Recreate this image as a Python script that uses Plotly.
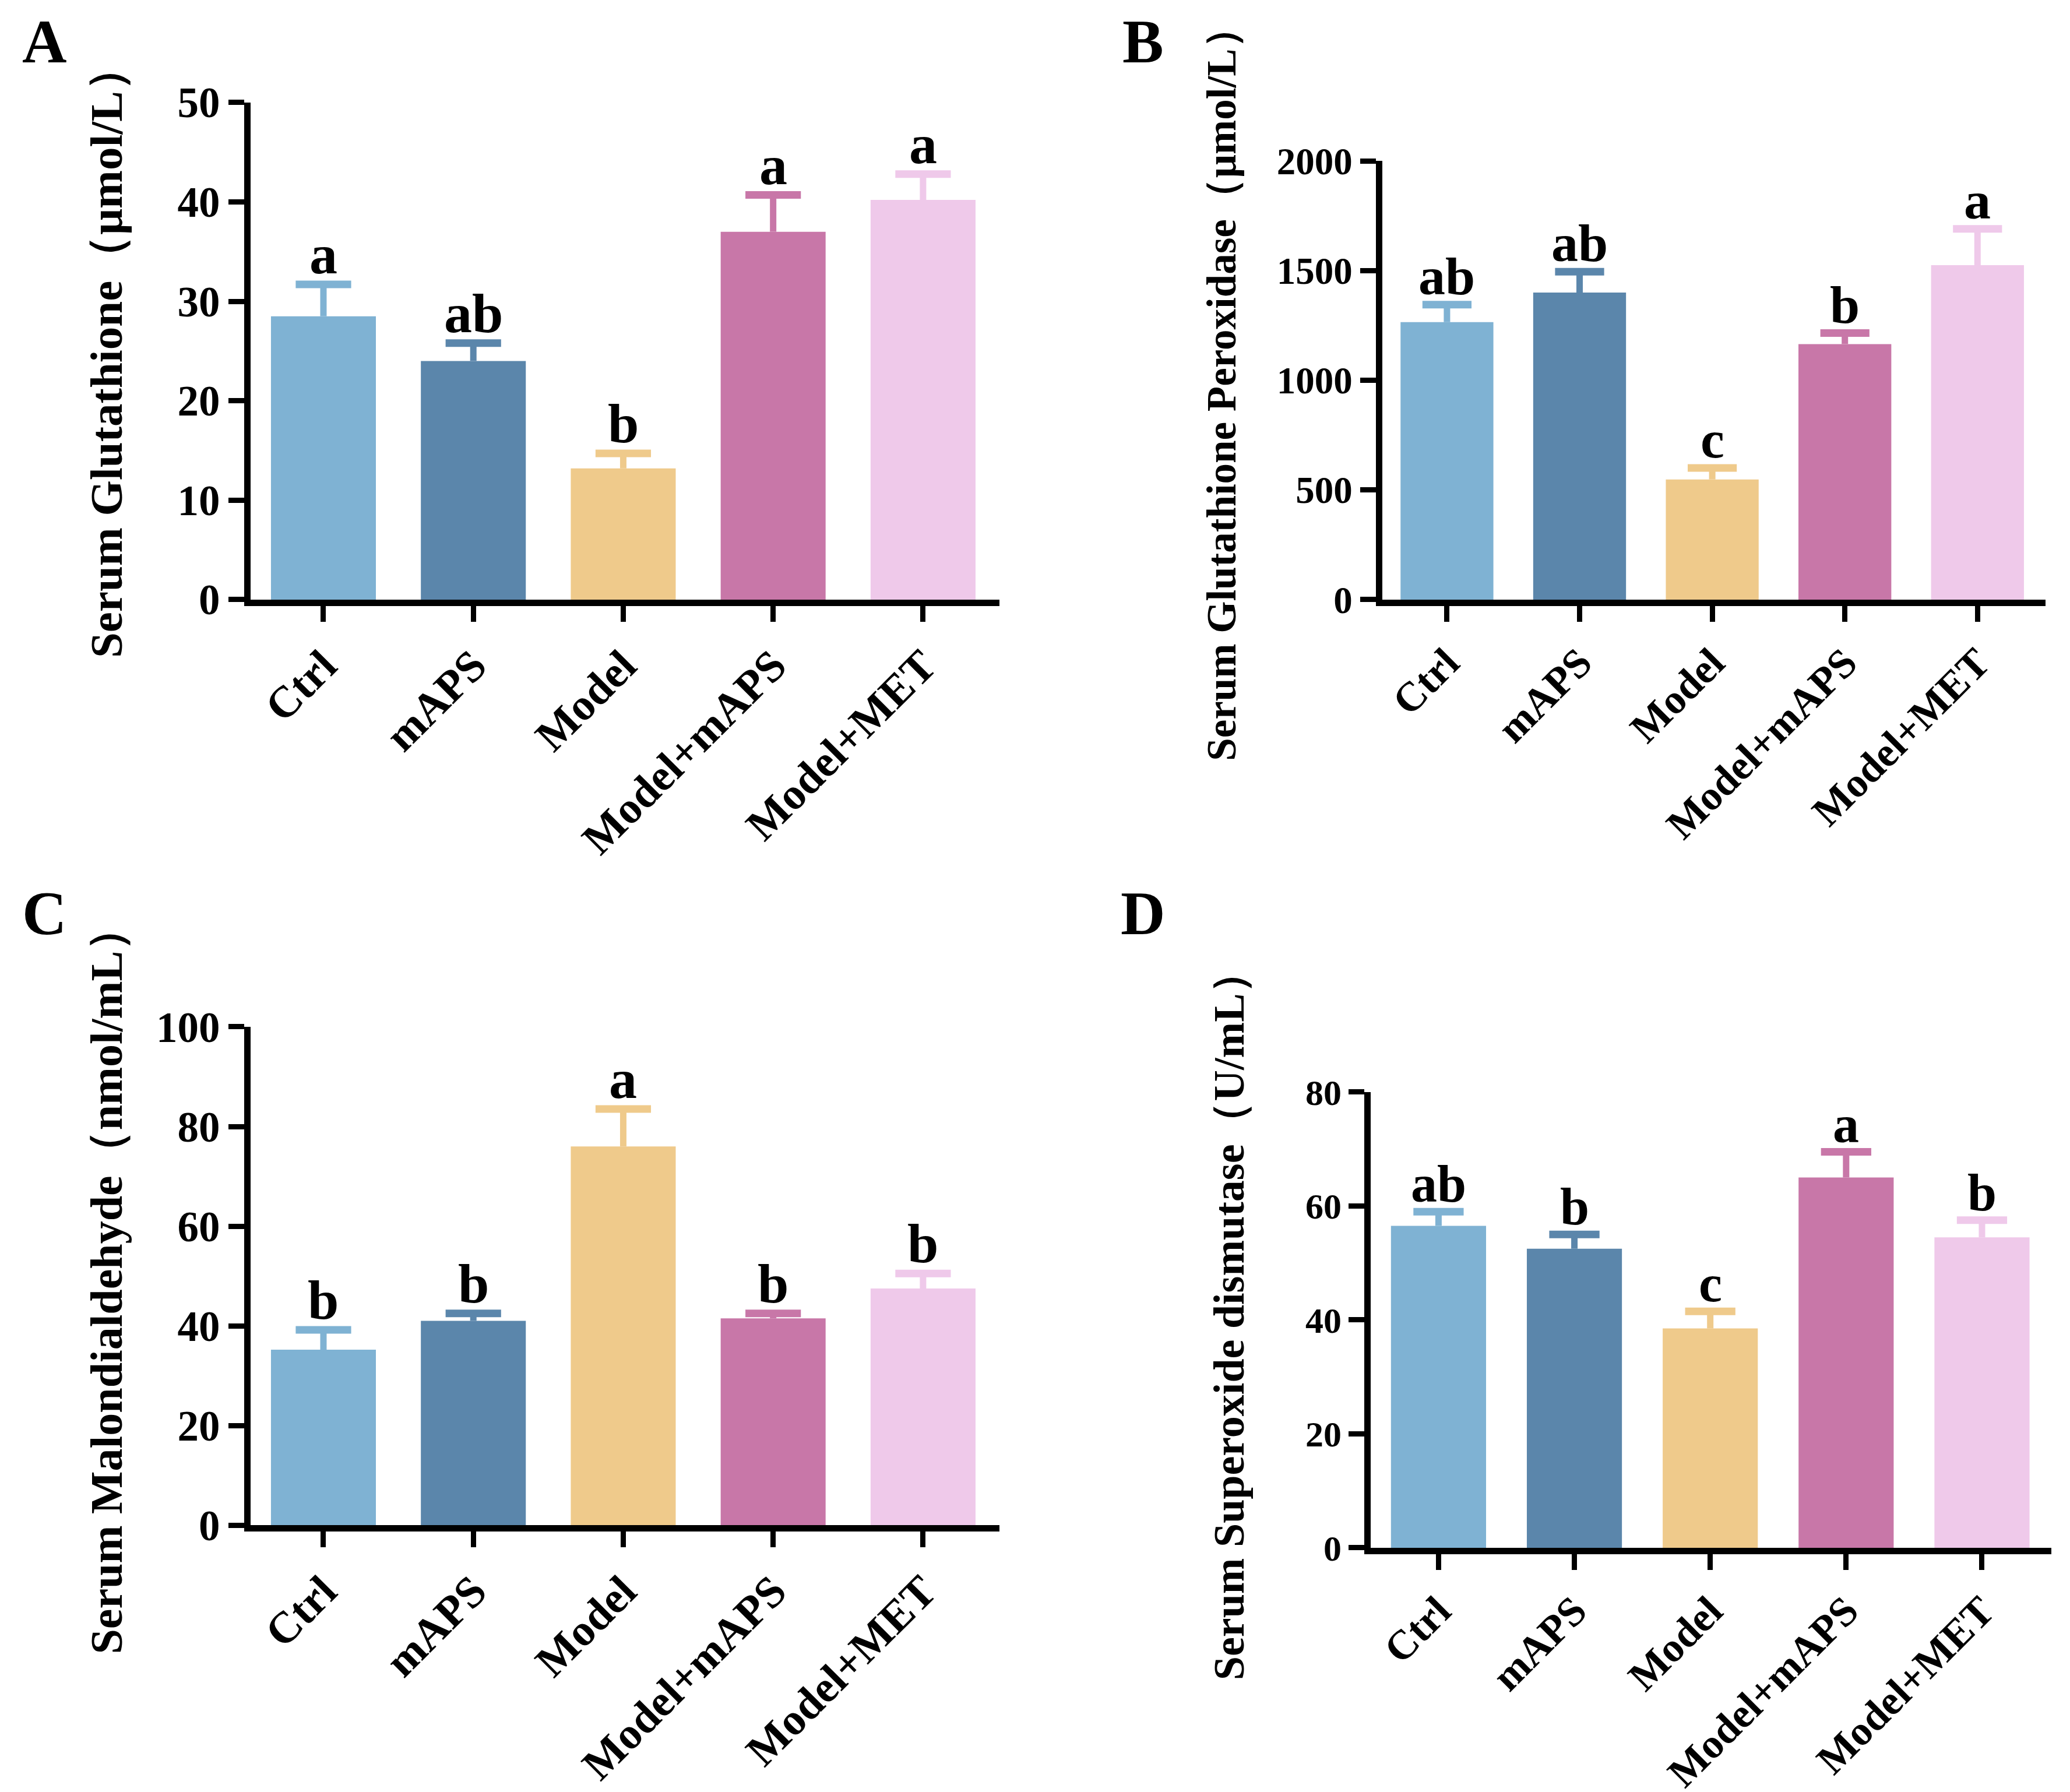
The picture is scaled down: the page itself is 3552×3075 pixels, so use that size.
import plotly.graph_objects as go

groups = ["Ctrl", "mAPS", "Model", "Model+mAPS", "Model+MET"]
colors = ["#7fb2d3", "#5b86ab", "#efca8b", "#c877a8", "#efc9ea"]

# panel A: serum glutathione
gsh_mean = [28.5, 24.0, 13.2, 37.0, 40.2]
gsh_err = [3.2, 1.8, 1.5, 3.7, 2.6]
gsh_sig = ["a", "ab", "b", "a", "a"]

# panel B: glutathione peroxidase
gpx_mean = [1265, 1400, 548, 1165, 1525]
gpx_err = [80, 95, 52, 50, 165]
gpx_sig = ["ab", "ab", "c", "b", "a"]

# panel C: malondialdehyde
mda_mean = [35.2, 41.0, 76.0, 41.5, 47.5]
mda_err = [4.0, 1.5, 7.5, 1.0, 3.0]
mda_sig = ["b", "b", "a", "b", "b"]

# panel D: superoxide dismutase
sod_mean = [56.5, 52.5, 38.5, 65.0, 54.5]
sod_err = [2.5, 2.5, 3.0, 4.5, 3.0]
sod_sig = ["ab", "b", "c", "a", "b"]

FONT = "Liberation Serif"
CAP = 0.185  # half width of error caps, in category units

panels = [
    dict(name="A", mean=gsh_mean, err=gsh_err, sig=gsh_sig, yrange=[0, 50], dtick=10,
         xdom=[0.1188, 0.4806], ydom=[0.668, 0.9454], xrange=[-0.486, 4.51],
         title="Serum Glutathione（μmol/L）", tsize=79, tx=0.049, ty=0.9782,
         lx=0.0193, ly=0.9795, ticksize=73, catsize=76, sigsize=96),
    dict(name="B", mean=gpx_mean, err=gpx_err, sig=gpx_sig, yrange=[0, 2000], dtick=500,
         xdom=[0.6655, 0.986], ydom=[0.668, 0.9128], xrange=[-0.488, 4.514],
         title="Serum Glutathione Peroxidase（μmol/L）", tsize=71, tx=0.5876, ty=0.999,
         lx=0.550, ly=0.9795, ticksize=65, catsize=71, sigsize=92),
    dict(name="C", mean=mda_mean, err=mda_err, sig=mda_sig, yrange=[0, 100], dtick=20,
         xdom=[0.1188, 0.4806], ydom=[0.1515, 0.4296], xrange=[-0.486, 4.51],
         title="Serum Malondialdehyde（nmol/mL）", tsize=78, tx=0.049, ty=0.4979,
         lx=0.0193, ly=0.4927, ticksize=73, catsize=76, sigsize=96),
    dict(name="D", mean=sod_mean, err=sod_err, sig=sod_sig, yrange=[0, 80], dtick=20,
         xdom=[0.660, 0.9887], ydom=[0.1389, 0.3932], xrange=[-0.498, 4.51],
         title="Serum Superoxide dismutase（U/mL）", tsize=74, tx=0.5917, ty=0.4732,
         lx=0.550, ly=0.4927, ticksize=62, catsize=71, sigsize=90),
]

fig = go.Figure()
annotations = []
layout_axes = {}

for i, p in enumerate(panels):
    n = "" if i == 0 else str(i + 1)
    xa, ya = "x" + n, "y" + n
    fig.add_trace(go.Bar(
        x=list(range(len(groups))), y=p["mean"], xaxis=xa, yaxis=ya,
        width=0.70, marker=dict(color=colors, line=dict(width=0)),
        showlegend=False,
    ))
    # upper error bars in the bar colour: stem and cap
    for j in range(len(groups)):
        top = p["mean"][j] + p["err"][j]
        fig.add_trace(go.Scatter(
            x=[j, j], y=[p["mean"][j], top], xaxis=xa, yaxis=ya, mode="lines",
            line=dict(color=colors[j], width=11), showlegend=False, hoverinfo="skip",
        ))
        fig.add_trace(go.Scatter(
            x=[j - CAP, j + CAP], y=[top, top], xaxis=xa, yaxis=ya, mode="lines",
            line=dict(color=colors[j], width=13), showlegend=False, hoverinfo="skip",
        ))
        annotations.append(dict(
            x=j, y=top, xref=xa, yref=ya, text="<b>" + p["sig"][j] + "</b>",
            showarrow=False, yanchor="bottom", yshift=-4,
            font=dict(family=FONT, size=p["sigsize"], color="black"),
        ))
    annotations.append(dict(
        x=p["tx"], y=p["ty"], xref="paper", yref="paper", text="<b>" + p["title"] + "</b>",
        textangle=-90, showarrow=False, xanchor="center", yanchor="top",
        font=dict(family=FONT, size=p["tsize"], color="black"),
    ))
    annotations.append(dict(
        x=p["lx"], y=p["ly"], xref="paper", yref="paper", text="<b>" + p["name"] + "</b>",
        showarrow=False, xanchor="center", yanchor="middle",
        font=dict(family=FONT, size=106, color="black"),
    ))
    axis_common = dict(showline=True, linecolor="black", linewidth=11, ticks="outside",
                       ticklen=27, tickwidth=9, tickcolor="black", showgrid=False,
                       zeroline=False, automargin=False)
    layout_axes["xaxis" + n] = dict(
        axis_common, domain=p["xdom"], range=p["xrange"], anchor=ya,
        tickmode="array", tickvals=list(range(len(groups))),
        ticktext=["<b>" + g + "</b>" for g in groups], tickangle=-45,
        tickfont=dict(family=FONT, size=p["catsize"], color="black"),
    )
    layout_axes["yaxis" + n] = dict(
        axis_common, domain=p["ydom"], range=p["yrange"], anchor=xa,
        dtick=p["dtick"], tickformat="d", tickprefix="<b>", ticksuffix="</b>",
        tickfont=dict(family=FONT, size=p["ticksize"], color="black"),
    )

fig.update_layout(
    width=3552, height=3075,
    margin=dict(l=0, r=0, t=0, b=0),
    plot_bgcolor="white", paper_bgcolor="white",
    annotations=annotations,
    **layout_axes,
)

fig.write_html("out.html")
